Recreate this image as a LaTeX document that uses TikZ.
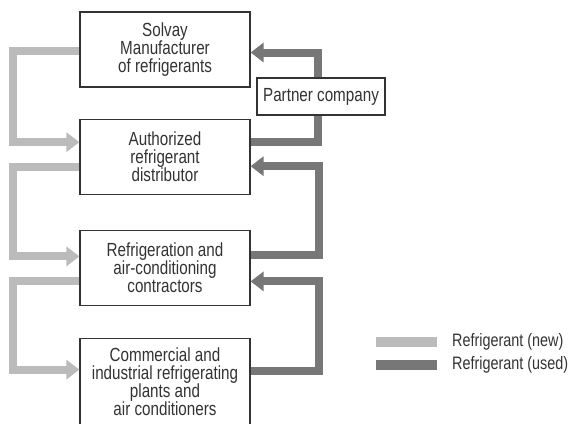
\documentclass[tikz,border=0pt]{standalone}
\usepackage{fontspec}
\setmainfont[FakeStretch=0.8]{Liberation Sans}
\usetikzlibrary{arrows.meta,positioning}
\definecolor{newgray}{RGB}{187,187,187}
\definecolor{usedgray}{RGB}{119,119,119}
\definecolor{inkgray}{RGB}{51,51,51}
\tikzset{x=1pt,y=-1pt,node distance=31pt,
  box/.style={draw=inkgray,line width=1.2pt,fill=white,text=inkgray,align=center,minimum width=170pt,minimum height=75pt,inner sep=2pt,font=\fontsize{19}{18}\selectfont},
  legend/.style={anchor=west,inner sep=0pt,text=inkgray,font=\fontsize{18}{18}\selectfont},
  newflow/.style={draw=newgray,line width=8pt},
  usedflow/.style={draw=usedgray,line width=8pt},
  newarrow/.style={newflow,-{Triangle[length=13pt,width=19pt]}},
  usedarrow/.style={usedflow,-{Triangle[length=13pt,width=19pt]}}}

\begin{document}
\begin{tikzpicture}
    \clip (0,0) rectangle (572,423);
    \node[box] (solvay) at (165,49.5) {Solvay\\Manufacturer\\of refrigerants};
    \node[box] (distributor) [below=of solvay] {Authorized\\refrigerant\\distributor};
    \node[box] (contractors) [below=35pt of distributor] {Refrigeration and\\air-conditioning\\contractors};
    \node[box,minimum height=92pt,text depth=6pt] (plants) [below=32pt of contractors] {Commercial and\\industrial refrigerating\\plants and\\air conditioners};
    \node[box,minimum width=128pt,minimum height=37pt] (partner) at (321,96.5) {Partner company};
    % new refrigerant
    \draw[newarrow] ([yshift=-1.5pt]solvay.west) -- ++(-66,0) |- ([yshift=14.5pt]distributor.west);
    \draw[newarrow] ([yshift=-10.5pt]distributor.west) -- ++(-66,0) |- ([yshift=11.5pt]contractors.west);
    \draw[newarrow] ([yshift=-13.5pt]contractors.west) -- ++(-66,0) |- ([yshift=15pt]plants.west);
    % used refrigerant
    \draw[usedflow] ([yshift=14.5pt]distributor.east) -| ([xshift=-3pt]partner.south);
    \draw[usedarrow] ([xshift=-3pt]partner.north) |- ([yshift=-3pt]solvay.east);
    \draw[usedarrow] ([yshift=12.5pt]contractors.east) -- ++(68,0) |- ([yshift=-9.5pt]distributor.east);
    \draw[usedarrow] ([yshift=14pt]plants.east) -- ++(68,0) |- ([yshift=-13.5pt]contractors.east);
    % legend
    \node[legend] (newlbl) at (452,342) {Refrigerant (new)};
    \node[legend] (usedlbl) at (452,365) {Refrigerant (used)};
    \draw[newflow,line width=10pt] ([xshift=-15pt]newlbl.west) -- ++(-61,0);
    \draw[usedflow,line width=10pt] ([xshift=-15pt]usedlbl.west) -- ++(-61,0);
\end{tikzpicture}
\end{document}
